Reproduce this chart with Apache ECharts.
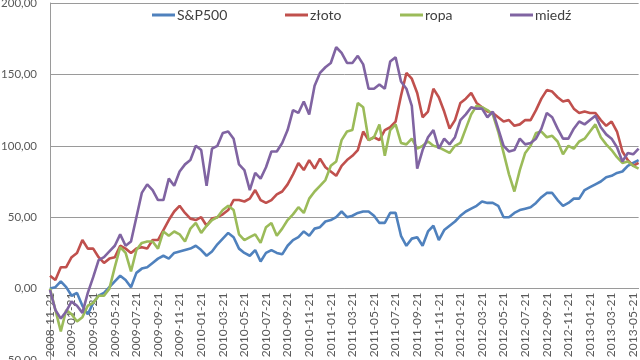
<!DOCTYPE html>
<html>
<head>
<meta charset="utf-8">
<script src="https://cdn.jsdelivr.net/npm/echarts@6/dist/echarts.min.js"></script>
<style>html,body{margin:0;padding:0;background:#fff}#c{width:640px;height:360px}</style>
</head>
<body>
<div id="c"></div>
<script>
var categories = ("2008-11-21 2008-12-06 2008-12-21 " +
 "2009-01-06 2009-01-21 2009-02-06 2009-02-21 2009-03-06 2009-03-21 2009-04-06 2009-04-21 2009-05-06 2009-05-21 2009-06-06 2009-06-21 " +
 "2009-07-06 2009-07-21 2009-08-06 2009-08-21 2009-09-06 2009-09-21 2009-10-06 2009-10-21 2009-11-06 2009-11-21 2009-12-06 2009-12-21 " +
 "2010-01-06 2010-01-21 2010-02-06 2010-02-21 2010-03-06 2010-03-21 2010-04-06 2010-04-21 2010-05-06 2010-05-21 2010-06-06 2010-06-21 " +
 "2010-07-06 2010-07-21 2010-08-06 2010-08-21 2010-09-06 2010-09-21 2010-10-06 2010-10-21 2010-11-06 2010-11-21 2010-12-06 2010-12-21 " +
 "2011-01-06 2011-01-21 2011-02-06 2011-02-21 2011-03-06 2011-03-21 2011-04-06 2011-04-21 2011-05-06 2011-05-21 2011-06-06 2011-06-21 " +
 "2011-07-06 2011-07-21 2011-08-06 2011-08-21 2011-09-06 2011-09-21 2011-10-06 2011-10-21 2011-11-06 2011-11-21 2011-12-06 2011-12-21 " +
 "2012-01-06 2012-01-21 2012-02-06 2012-02-21 2012-03-06 2012-03-21 2012-04-06 2012-04-21 2012-05-06 2012-05-21 2012-06-06 2012-06-21 " +
 "2012-07-06 2012-07-21 2012-08-06 2012-08-21 2012-09-06 2012-09-21 2012-10-06 2012-10-21 2012-11-06 2012-11-21 2012-12-06 2012-12-21 " +
 "2013-01-06 2013-01-21 2013-02-06 2013-02-21 2013-03-06 2013-03-21 2013-04-06 2013-04-21 2013-05-06 2013-05-21 2013-06-06").split(" ");

var seriesNames = ["S&P500", "złoto", "ropa", "miedź"];

var sp500 = [0,1,5,1,-5,-3,-12,-18,-10,-5,
 -3,1,5,9,6,1,11,14,15,18,
 21,23,21,25,26,27,28,30,27,23,
 26,31,35,39,36,28,25,23,27,19,
 25,27,25,24,30,34,36,40,37,42,
 43,47,48,50,54,50,51,53,54,54,
 51,46,46,53,53,37,30,35,36,30,
 40,44,34,41,44,47,51,54,56,58,
 61,60,60,58,50,50,53,55,56,57,
 60,64,67,67,62,58,60,63,63,69,
 71,73,75,78,79,81,82,86,88,90];

var zloto = [9,6,15,15,22,25,34,28,28,22,
 18,21,22,30,28,25,28,29,28,34,
 34,41,48,54,58,53,49,48,50,44,
 49,50,52,55,62,62,61,63,69,62,
 60,62,66,68,73,80,88,83,90,84,
 91,85,82,79,86,90,93,97,110,104,
 106,104,111,113,117,135,151,147,137,120,
 124,140,134,124,112,118,130,133,137,130,
 127,124,123,120,117,118,114,115,118,118,
 125,133,139,138,134,131,132,126,123,124,
 123,123,118,114,117,110,96,90,86,88];

var ropa = [0,-15,-30,-15,-18,-23,-20,-12,-10,-5,
 -5,0,15,29,25,12,27,32,33,33,
 28,40,37,40,38,33,42,46,39,44,
 48,50,55,58,55,38,34,36,38,32,
 43,46,37,42,48,52,57,53,63,68,
 72,76,86,89,104,110,111,130,127,104,
 106,115,93,111,115,102,101,105,98,100,
 103,100,99,97,95,100,102,112,122,128,
 127,125,122,110,95,80,68,83,95,100,
 109,110,106,107,103,94,100,98,103,105,
 110,115,106,101,97,92,88,89,86,84];

var miedz = [-1,-15,-21,-16,-9,-12,-17,-3,8,20,
 22,26,30,38,30,33,50,67,73,69,
 62,62,77,72,82,87,90,100,97,72,
 98,100,109,110,105,87,83,69,81,77,
 85,96,96,102,111,125,123,131,122,142,
 151,155,158,169,165,158,158,163,157,140,
 140,143,140,159,162,145,140,128,84,97,
 106,111,98,105,101,106,118,122,127,126,
 126,120,124,112,100,96,97,105,101,102,
 105,112,123,120,112,105,105,112,117,115,
 118,121,113,108,105,99,89,95,94,98];

var yMin = -50, yMax = 200, yStep = 50;
var colors = ["#4F81BD", "#C0504D", "#9BBB59", "#8064A2"];
var legendLeft = [152, 285, 400, 510];
var values = [sp500, zloto, ropa, miedz];

var gridTop = 3, gridBottom = 0, H = 360;
var plotH = H - gridTop - gridBottom;
var zeroOffset = -plotH * (0 - yMin) / (yMax - yMin);

var chart = echarts.init(document.getElementById("c"), null, {renderer: "canvas"});
var font = "Lato, 'Open Sans', sans-serif";

var legends = seriesNames.map(function (n, i) {
  return {
    data: [n], left: legendLeft[i], top: 8, icon: "rect",
    itemWidth: 23, itemHeight: 3, itemGap: 0, padding: 0,
    textStyle: {fontSize: 14, color: "#404040", fontFamily: font, padding: [0, 0, 0, -3]}
  };
});

chart.setOption({
  animation: false,
  backgroundColor: "#ffffff",
  color: colors,
  legend: legends,
  grid: {left: 50, right: 1.4, top: gridTop, bottom: gridBottom, containLabel: false, outerBoundsMode: "none"},
  xAxis: {
    type: "category", data: categories, boundaryGap: false, position: "bottom", offset: zeroOffset,
    axisLine: {show: true, onZero: false, lineStyle: {color: "#9a9a9a", width: 1}},
    axisTick: {show: false},
    axisLabel: {
      interval: function (idx) { return idx % 4 === 0; },
      rotate: 90, fontSize: 12, color: "#595959", fontFamily: font, margin: 4,
      hideOverlap: false
    },
    splitLine: {show: false}
  },
  yAxis: {
    type: "value", min: yMin, max: yMax, interval: yStep,
    axisLine: {show: true, lineStyle: {color: "#9a9a9a", width: 1}},
    axisTick: {show: false},
    axisLabel: {fontSize: 11.5, color: "#595959", fontFamily: font, margin: 13,
      formatter: function (v) { return v.toFixed(2).replace(".", ","); }},
    splitLine: {show: true, lineStyle: {color: "#9a9a9a", width: 1}}
  },
  series: seriesNames.map(function (n, i) {
    return {
      name: n, type: "line", data: values[i], showSymbol: false, symbol: "none",
      lineStyle: {width: 2.6, color: colors[i]}, itemStyle: {color: colors[i]}
    };
  })
});
</script>
</body>
</html>
